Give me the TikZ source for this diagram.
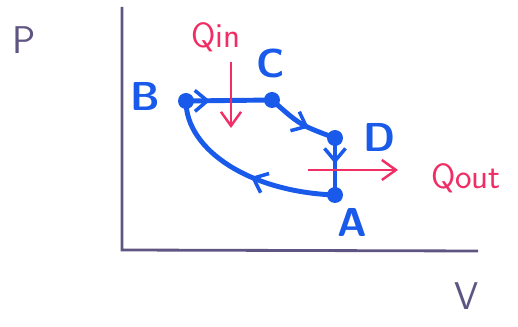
\documentclass[tikz,border=0pt]{standalone}
\usepackage{xcolor}
\usepackage{tikz}
\usetikzlibrary{
  positioning,
  arrows.meta,
  decorations.markings
}
\definecolor{penblue}{RGB}{25,90,235}
\definecolor{penred}{RGB}{240,45,100}
\definecolor{penaxis}{RGB}{95,85,130}
\tikzset{
  >={Straight Barb[length=2.8mm,width=4mm]},
  axisline/.style={draw=penaxis,line width=1.6pt},
  stateline/.style={draw=penblue,line width=2.8pt,line cap=round},
  statedot/.style={circle,fill=penblue,inner sep=0pt,minimum size=3.2mm},
  statelabel/.style={text=penblue,font=\fontsize{23}{27}\sffamily\bfseries},
  heatarrow/.style={draw=penred,line width=1.4pt,->},
  heatlabel/.style={text=penred,font=\fontsize{20}{24}\sffamily},
  axislabel/.style={text=penaxis,font=\fontsize{22}{26}\sffamily},
  midarrow/.style={postaction={decorate},decoration={markings,
    mark=at position #1 with {\arrow[penblue,line width=2pt]{Straight Barb[length=2.5mm,width=4.2mm]}}}}
}

\begin{document}
\begin{tikzpicture}[x=0.02cm,y=-0.02cm]
    \useasboundingbox (0,0) rectangle (518,327);
    % axes
    \coordinate (ytop) at (122,7);
    \coordinate (origin) at (122,250);
    \coordinate (xend) at (478,251);
    \draw[axisline] (ytop) -- (origin) -- (xend);
    \node[axislabel] (lblP) at (24,40) {P};
    \node[axislabel] (lblV) at (467,296) {V};

    % states of the cycle
    \foreach \x/\y/\id in {335/195/A,186/101/B,272/100/C,335/138/D}
        \node[statedot] (pt\id) at (\x,\y) {};
    \node[statelabel] (lblA) at (352,222) {A};
    \node[statelabel] (lblB) at (145,96) {B};
    \node[statelabel] (lblC) at (271,63) {C};
    \node[statelabel] (lblD) at (380,137) {D};

    \draw[stateline,midarrow=0.28] (ptB.center) -- (ptC.center);
    \draw[stateline,midarrow=0.62] (ptC.center) .. controls (300,125) .. (ptD.center);
    \draw[stateline,midarrow=0.45] (ptD.center) -- (ptA.center);
    \draw[stateline,midarrow=0.45] (ptA.center) .. controls (250,192) and (186,150) .. (ptB.center);

    % heat in and out
    \coordinate (qintop) at (231,62);
    \coordinate (qinbot) at (231,128);
    \draw[heatarrow] (qintop) -- (qinbot);
    \node[heatlabel] (lblQin) at (216,37) {Qin};
    \coordinate (qoutstart) at (308,170);
    \coordinate (qoutend) at (398,170);
    \draw[heatarrow] (qoutstart) -- (qoutend);
    \node[heatlabel] (lblQout) at (466,178) {Qout};
\end{tikzpicture}
\end{document}
